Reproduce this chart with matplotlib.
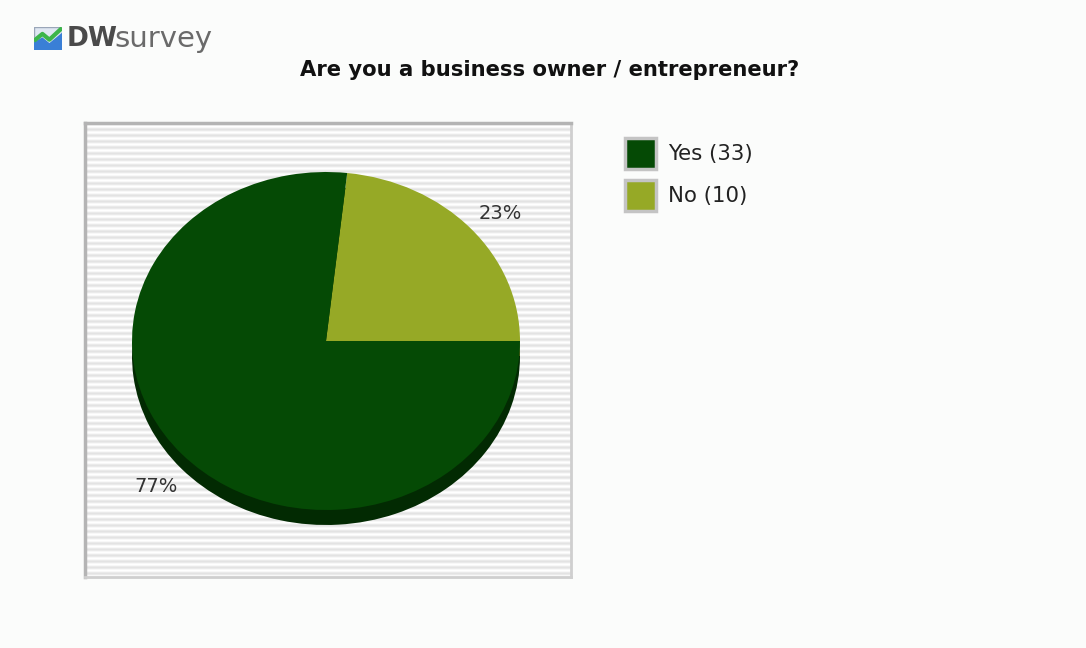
import matplotlib.pyplot as plt
import matplotlib.patches as mpatches
import numpy as np

# survey answers
labels = ["Yes", "No"]
counts = [33, 10]
colors = ["#054a05", "#96a926"]
side_colors = ["#022a02", "#4f5a12"]
title = "Are you a business owner / entrepreneur?"

W, H = 1086, 648
fig = plt.figure(figsize=(W / 100, H / 100), dpi=100, facecolor="#fbfcfb")

def px_axes(x0, y0, x1, y1):
    # axes from pixel box (top-left origin)
    return fig.add_axes([x0 / W, 1 - y1 / H, (x1 - x0) / W, (y1 - y0) / H])

#------- plot area with striped background -------
box = (85, 123, 571, 577)
bg = px_axes(*box)
rows = np.arange(box[3] - box[1])
stripe = 0.5 + 0.5 * np.cos(2 * np.pi * rows / 6.0)
img = 1 - 0.11 * stripe
bg.imshow(np.tile(img[:, None], (1, 8)), cmap="gray", vmin=0, vmax=1,
          aspect="auto", interpolation="nearest")
bg.set_xticks([])
bg.set_yticks([])
for side, col in (("left", "#b4b4b4"), ("top", "#b4b4b4"),
                  ("right", "#cfcfcf"), ("bottom", "#cfcfcf")):
    bg.spines[side].set_color(col)
    bg.spines[side].set_linewidth(2.5 if side in ("left", "top") else 2)

#------- pie (squashed, with a shadow for depth) -------
ax = px_axes(*box)
ax.set_facecolor("none")
ax.axis("off")
cx, cy, rx, ry, depth = 326, 341, 194, 169, 15

order = [1, 0]  # No starts at 3 o'clock, counterclockwise
vals = [counts[i] for i in order]
ax.pie(vals, colors=[side_colors[i] for i in order], startangle=0,
       counterclock=True, radius=1, center=(0, -depth / ry),
       wedgeprops=dict(linewidth=0))
ax.pie(vals, colors=[colors[i] for i in order], startangle=0,
       counterclock=True, radius=1, center=(0, 0),
       wedgeprops=dict(linewidth=0))
ax.set_xlim(-(cx - box[0]) / rx, (box[2] - cx) / rx)
ax.set_ylim(-(box[3] - cy) / ry, (cy - box[1]) / ry)
ax.set_aspect("auto")

total = sum(counts)
pct = [round(100 * c / total) for c in counts]
ax.text(-0.875, -0.86, f"{pct[0]}%", fontsize=14, color="#333333",
        ha="center", va="center")
ax.text(0.896, 0.757, f"{pct[1]}%", fontsize=14, color="#333333",
        ha="center", va="center")

#------- legend -------
for i, (lab, c) in enumerate(zip(labels, counts)):
    y = 138 + 42 * i
    fig.patches.append(mpatches.Rectangle(
        (625 / W, 1 - (y + 31) / H), 31 / W, 31 / H,
        transform=fig.transFigure, facecolor=colors[i],
        edgecolor="#c4c4c4", linewidth=2.5))
    fig.text(668 / W, 1 - (y + 16) / H, f"{lab} ({c})", fontsize=15.3,
             color="#222222", va="center", ha="left")

#------- title -------
fig.text(550 / W, 1 - 70 / H, title, fontsize=15.2, fontweight="bold",
         color="#111111", ha="center", va="center")

#------- logo -------
logo = px_axes(34, 27, 62, 50)
logo.set_xlim(0, 1)
logo.set_ylim(0, 1)
logo.axis("off")
logo.add_patch(mpatches.Rectangle((0, 0), 1, 1, facecolor="#dfe7f2",
                                  edgecolor="#9aa6b8", linewidth=1))
logo.add_patch(mpatches.Polygon([(0, 0), (0, 0.35), (0.3, 0.55), (0.55, 0.3),
                                 (1, 0.75), (1, 0)], facecolor="#3a7fd6"))
logo.plot([0.05, 0.3, 0.55, 0.95], [0.45, 0.7, 0.45, 0.9], color="#3cb54a",
          linewidth=3)
fig.text(67 / W, 1 - 39 / H, "DW", fontsize=19, fontweight="bold",
         color="#4a4a4a", va="center", ha="left")
fig.text(114 / W, 1 - 39 / H, "survey", fontsize=21, color="#6a6a6a",
         va="center", ha="left")

fig.savefig("out.png", dpi=100, facecolor=fig.get_facecolor())
